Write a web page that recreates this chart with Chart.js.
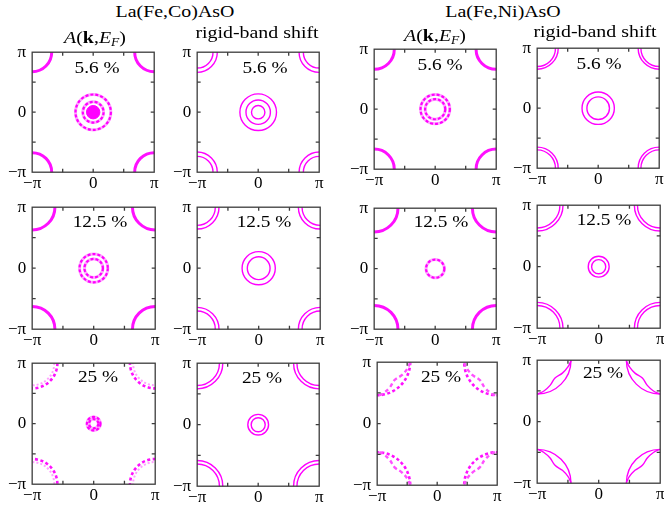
<!DOCTYPE html>
<html>
<head>
<meta charset="utf-8">
<script src="https://cdn.jsdelivr.net/npm/chart.js@4.4.1/dist/chart.umd.min.js"></script>
<style>
  body { margin: 0; background: #fff; }
  #fig { position: relative; width: 664px; height: 511px; overflow: hidden; font-family: 'Liberation Serif', 'Times New Roman', serif; }
  .panel { position: absolute; }
  .txt { position: absolute; white-space: nowrap; line-height: 1; color: #000;
         transform: translateX(-50%) scaleX(1.17); transform-origin: center top; }
  .sub { font-size: 0.68em; vertical-align: -0.28em; }
</style>
</head>
<body>
<div id="fig"></div>
<script>
const compounds = ['La(Fe,Co)AsO', 'La(Fe,Ni)AsO'];
const methods = ['<i>A</i>(<b>k</b>,<i>E</i><span class="sub"><i>F</i></span>)', 'rigid-band shift'];
const dopings = ['5.6 %', '12.5 %', '25 %'];
const tickSteps = [-1, -0.5, 0, 0.5, 1];   // units of π
const tickNames = ['−π', '', '0', '', 'π'];

// Fermi-surface pocket radii in units of π, one entry per doping row
const coSpecRings = [[0.29, 0.17], [0.23, 0.15], [0.11, 0.075]];
const coSpecDisc = [[0.11], [], []];
const coSpecCorner = [[0.32], [0.37], []];
const coSpecCornerDots = [[], [], [0.41]];
const coSpecCornerFaint = [[], [], [0.36]];
const coRigidRings = [[0.30, 0.20, 0.11], [0.27, 0.185], [0.17, 0.115]];
const coRigidCorner = [[0.33, 0.26], [0.355, 0.295], [0.42, 0.365]];
const niSpecRings = [[0.24, 0.165], [0.15], []];
const niSpecCorner = [[0.33], [0.39], []];
const niSpecCornerDots = [[], [], [0.55]];
const niRigidRings = [[0.265, 0.185], [0.17, 0.115], []];
const niRigidCorner = [[0.345, 0.30], [0.42, 0.37], [0.55]];
// inner M-point sheet at 25 % Ni, offsets from the zone corner (units of π)
const niSheetDx = [0.55, 0.50, 0.41, 0.29, 0.21, 0.11, 0.01];
const niSheetDy = [0.01, 0.11, 0.21, 0.29, 0.41, 0.50, 0.55];

// layout: plot boxes [left, top, width, height] and label anchors
const boxes = [
  [32, 52, 122, 120], [197, 52, 122, 120], [374, 49, 122, 120], [537, 48, 122, 120],
  [32, 207, 123, 122], [197, 207, 123, 122], [374, 208, 122, 121], [537, 205, 123, 123],
  [32, 363, 123, 121], [197, 363, 122, 123], [377, 362, 120, 123], [537, 360, 123, 123]
];
const pctPos = [
  [97, 63], [265, 63], [440, 60], [599, 59],
  [100, 217], [264, 217], [441, 217], [604, 215],
  [98, 372], [262, 373], [441, 372], [603, 368]
];

const CENTRE = [[0, 0]];
const CORNERS = [[-1, 1], [1, 1], [-1, -1], [1, -1]];
const fig = document.getElementById('fig');

Chart.defaults.font.family = "'Liberation Serif', 'Times New Roman', serif";

function addText(html, x, y, size) {
  const d = document.createElement('div');
  d.className = 'txt';
  d.innerHTML = html;
  d.style.left = x + 'px';
  d.style.top = y + 'px';
  d.style.fontSize = size + 'px';
  fig.appendChild(d);
}

function ringPx(chart, r) {
  const s = chart.scales.x;
  return Math.abs(s.getPixelForValue(r * Math.PI) - s.getPixelForValue(0));
}

const rigid = { pointBorderColor: '#ff00ff', pointBorderWidth: 1.4 };
const specHalo = { pointBorderColor: '#ffa8ff', pointBorderWidth: 3 };
const specDash = { pointBorderColor: '#ff00ff', pointBorderWidth: 2.2, dash: [3, 2] };
const specSolid = { pointBorderColor: '#ff10ff', pointBorderWidth: 3 };
const specDots = { pointBorderColor: '#ff10ff', pointBorderWidth: 2.6, dash: [3, 2.5] };
const specFaint = { pointBorderColor: '#ffa0ff', pointBorderWidth: 2, dash: [2, 2] };
const disc = { pointBorderColor: '#ff00ff', pointBackgroundColor: '#ff00ff', pointBorderWidth: 1 };

function rings(radii, at, style) {
  return Object.assign({
    data: radii.flatMap(r => at.map(([x, y]) => ({ x: x * Math.PI, y: y * Math.PI, r }))),
    pointRadius: c => ringPx(c.chart, c.raw.r),
    pointBackgroundColor: 'rgba(0,0,0,0)',
    clip: 0
  }, style);
}

function sheets(style) {
  return CORNERS.map(([sx, sy]) => Object.assign({
    data: niSheetDx.map((dx, i) => ({ x: sx * (1 - dx) * Math.PI, y: sy * (1 - niSheetDy[i]) * Math.PI })),
    showLine: true, pointRadius: 0, tension: 0.4, clip: 0
  }, style));
}

function panelSets(col, row) {
  let list = [];
  if (col === 0) {
    list = [
      rings(coSpecRings[row], CENTRE, specHalo),
      rings(coSpecRings[row], CENTRE, specDash),
      rings(coSpecDisc[row], CENTRE, disc),
      rings(coSpecCornerFaint[row], CORNERS, specFaint),
      rings(coSpecCorner[row], CORNERS, specSolid),
      rings(coSpecCornerDots[row], CORNERS, specDots)
    ];
  } else if (col === 1) {
    list = [rings(coRigidRings[row], CENTRE, rigid), rings(coRigidCorner[row], CORNERS, rigid)];
  } else if (col === 2) {
    list = [
      rings(niSpecRings[row], CENTRE, specHalo),
      rings(niSpecRings[row], CENTRE, specDash),
      rings(niSpecCorner[row], CORNERS, specSolid),
      rings(niSpecCornerDots[row], CORNERS, specDots)
    ];
    if (row === 2) list = list.concat(sheets({ borderColor: '#ff50ff', borderWidth: 2.4, borderDash: [4, 3] }));
  } else {
    list = [rings(niRigidRings[row], CENTRE, rigid), rings(niRigidCorner[row], CORNERS, rigid)];
    if (row === 2) list = list.concat(sheets({ borderColor: '#ff00ff', borderWidth: 1.4 }));
  }
  list = list.filter(d => d.data.length);
  list.forEach((d, i) => { d.order = list.length - i; });
  return list;
}

const dashes = {
  id: 'dashes',
  beforeDatasetDraw(chart, args) {
    const d = chart.data.datasets[args.index].dash;
    if (d) chart.ctx.setLineDash(d);
  },
  afterDatasetDraw(chart) { chart.ctx.setLineDash([]); }
};

const frame = {
  id: 'frame',
  afterDatasetsDraw(chart) {
    const { ctx, chartArea: a, scales } = chart;
    ctx.save();
    ctx.strokeStyle = '#3c3c3c';
    ctx.lineWidth = 1.3;
    ctx.strokeRect(a.left, a.top, a.width, a.height);
    ctx.beginPath();
    tickSteps.filter(v => Math.abs(v) < 1).forEach(v => {
      const px = scales.x.getPixelForValue(v * Math.PI);
      const py = scales.y.getPixelForValue(v * Math.PI);
      ctx.moveTo(px, a.bottom); ctx.lineTo(px, a.bottom - 3.5);
      ctx.moveTo(px, a.top); ctx.lineTo(px, a.top + 3.5);
      ctx.moveTo(a.left, py); ctx.lineTo(a.left + 3.5, py);
      ctx.moveTo(a.right, py); ctx.lineTo(a.right - 3.5, py);
    });
    ctx.stroke();
    ctx.restore();
  }
};

function axis(padding) {
  return {
    type: 'linear', min: -Math.PI, max: Math.PI,
    afterBuildTicks: s => { s.ticks = tickSteps.map(v => ({ value: v * Math.PI })); },
    ticks: { padding, color: '#000', font: { size: 17 }, maxRotation: 0, autoSkip: false,
             callback: (v, i) => tickNames[i] },
    grid: { display: false, drawTicks: false },
    border: { display: false }
  };
}

function drawPanel(idx) {
  const col = idx % 4, row = Math.floor(idx / 4);
  const [L, T, w, h] = boxes[idx];
  const wrap = document.createElement('div');
  wrap.className = 'panel';
  const canvas = document.createElement('canvas');
  canvas.width = 200; canvas.height = 190;
  wrap.appendChild(canvas);
  fig.appendChild(wrap);
  const chart = new Chart(canvas, {
    type: 'scatter',
    data: { datasets: panelSets(col, row) },
    options: {
      responsive: false, maintainAspectRatio: false, animation: false, events: [],
      layout: { autoPadding: false, padding: { top: 2, right: 2 } },
      plugins: { legend: { display: false }, tooltip: { enabled: false } },
      scales: { x: axis(1), y: axis(6) }
    },
    plugins: [dashes, frame]
  });
  const a = chart.chartArea;
  const ml = a.left, mt = a.top, mr = 200 - a.right, mb = 190 - a.bottom;
  chart.resize(w + ml + mr, h + mt + mb);
  const b = chart.chartArea;
  wrap.style.left = (L - b.left) + 'px';
  wrap.style.top = (T - b.top) + 'px';
}

for (let i = 0; i < 12; i++) drawPanel(i);

addText(compounds[0], 175, 3, 17);
addText(compounds[1], 503, 3, 17);
addText(methods[0], 95, 29, 17);
addText(methods[1], 257, 23.5, 17);
addText(methods[0], 435, 27, 17);
addText(methods[1], 595, 22.5, 17);
pctPos.forEach(([x, y], i) => addText(dopings[Math.floor(i / 4)], x, y - 2.7, 16.5));
</script>
</body>
</html>
